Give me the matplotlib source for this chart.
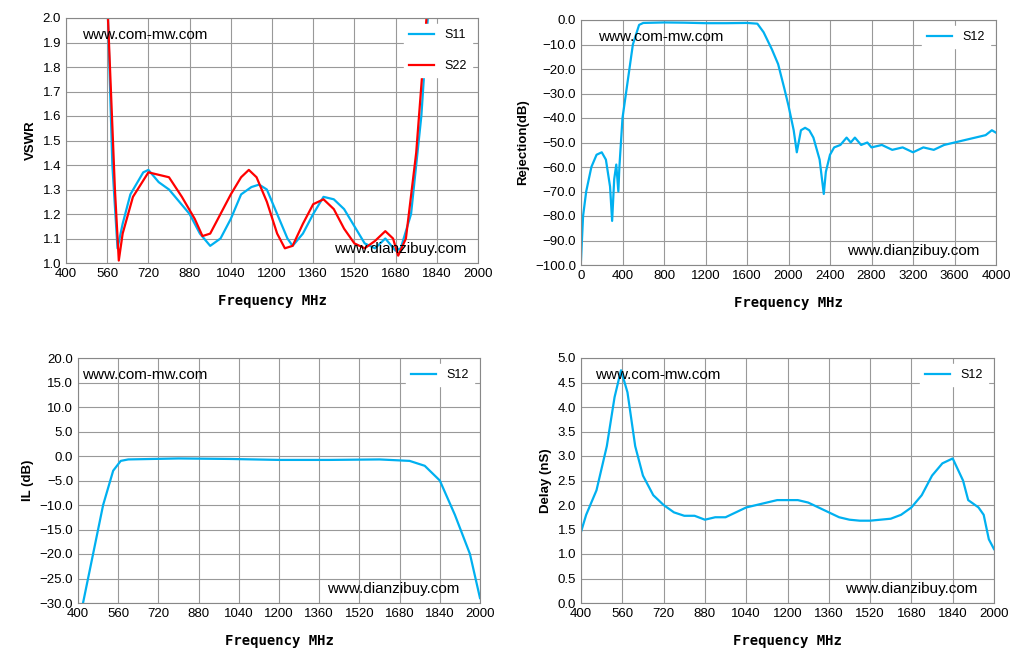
import matplotlib
matplotlib.use('Agg')
import matplotlib.pyplot as plt
import numpy as np

plt.rcParams['font.family'] = ['Liberation Sans', 'DejaVu Sans']

# VSWR
vs_f11 = [563, 580, 600, 620, 650, 700, 720, 760, 800, 880, 920, 960, 1000, 1040, 1080, 1120, 1150, 1180, 1220, 1260,
          1280, 1320, 1360, 1400, 1440, 1480, 1520, 1560, 1600, 1640, 1680, 1700, 1740, 1780, 1805]
vs_s11 = [2.0, 1.4, 1.06, 1.16, 1.28, 1.37, 1.38, 1.33, 1.30, 1.20, 1.12, 1.07, 1.10, 1.18, 1.28, 1.31, 1.32, 1.30, 1.20, 1.10,
          1.07, 1.12, 1.20, 1.27, 1.26, 1.22, 1.15, 1.08, 1.06, 1.10, 1.05, 1.06, 1.20, 1.60, 2.0]
vs_f22 = [563, 590, 605, 620, 660, 720, 760, 800, 850, 900, 930, 960, 1000, 1040, 1080, 1110, 1140, 1180, 1220, 1250,
          1280, 1320, 1360, 1400, 1440, 1480, 1520, 1560, 1600, 1640, 1670, 1690, 1720, 1760, 1800]
vs_s22 = [2.0, 1.3, 1.01, 1.12, 1.27, 1.37, 1.36, 1.35, 1.27, 1.18, 1.11, 1.12, 1.20, 1.28, 1.35, 1.38, 1.35, 1.25, 1.12, 1.06,
          1.07, 1.16, 1.24, 1.26, 1.22, 1.14, 1.08, 1.06, 1.09, 1.13, 1.10, 1.03, 1.10, 1.45, 2.0]

# Rejection
rj_f = [0, 20, 50, 100, 150, 200, 240, 280, 300, 320, 340, 360, 370, 400, 450, 500, 560, 600, 800, 1000, 1200, 1400,
        1600, 1700, 1760, 1840, 1900, 1960, 2000, 2050, 2080, 2120, 2160, 2200, 2240, 2300, 2340, 2360, 2400, 2440,
        2500, 2560, 2600, 2640, 2700, 2760, 2800, 2900, 3000, 3100, 3200, 3300, 3400, 3500, 3600, 3700, 3800, 3900,
        3960, 4000]
rj_v = [-98, -80, -70, -60, -55, -54, -57, -68, -82, -65, -59, -70, -60, -40, -25, -10, -2, -1.2, -1.0, -1.1, -1.3, -1.3,
        -1.2, -1.5, -5, -12, -18, -28, -35, -45, -54, -45, -44, -45, -48, -57, -71, -62, -55, -52,
        -51, -48, -50, -48, -51, -50, -52, -51, -53, -52, -54, -52, -53, -51, -50, -49, -48, -47,
        -45, -46]

# Insertion loss
il_f = [420, 460, 500, 540, 570, 600, 800, 1000, 1200, 1400, 1600, 1720, 1780, 1840, 1900, 1960, 2000]
il_v = [-30, -20, -10, -3, -1.0, -0.7, -0.5, -0.6, -0.8, -0.8, -0.7, -1.0, -2.0, -5, -12, -20, -29]

# Group delay
dl_f = [400, 420, 460, 500, 530, 555, 580, 610, 640, 680, 720, 760, 800, 840, 880, 920, 960, 1000, 1040, 1080, 1120,
        1160, 1200, 1240, 1280, 1320, 1360, 1400, 1440, 1480, 1520, 1560, 1600, 1640, 1680, 1720, 1760, 1800, 1840,
        1880, 1900, 1940, 1960, 1980, 2000]
dl_v = [1.45, 1.8, 2.3, 3.2, 4.2, 4.75, 4.3, 3.2, 2.6, 2.2, 2.0, 1.85, 1.78, 1.78, 1.7, 1.75, 1.75, 1.85, 1.95, 2.0, 2.05,
        2.1, 2.1, 2.1, 2.05, 1.95, 1.85, 1.75, 1.7, 1.68, 1.68, 1.7, 1.72, 1.8, 1.95, 2.2, 2.6, 2.85, 2.95,
        2.5, 2.1, 1.95, 1.8, 1.3, 1.1]

BLUE = '#00B0F0'
RED = '#FF0000'
xfont = dict(family='DejaVu Sans Mono', fontweight='bold', fontsize=10, labelpad=10)
yfont = dict(fontweight='bold', fontsize=9.5)

fig = plt.figure(figsize=(10.24, 6.65), dpi=100)
W, H = 1024, 665
def mkax(l, t, r, b):
    return fig.add_axes([l / W, 1 - b / H, (r - l) / W, (b - t) / H])

ax1 = mkax(66, 18, 478, 263)
ax2 = mkax(581, 20, 996, 265)
ax3 = mkax(78, 358, 480, 603)
ax4 = mkax(581, 358, 994, 603)

ax1.plot(vs_f11, vs_s11, color=BLUE, lw=1.6, label='S11')
ax1.plot(vs_f22, vs_s22, color=RED, lw=1.6, label='S22')
ax1.set_xlim(400, 2000); ax1.set_ylim(1.0, 2.0)
ax1.set_xticks(np.arange(400, 2001, 160)); ax1.set_yticks(np.arange(1.0, 2.01, 0.1))
ax1.yaxis.set_major_formatter('{x:.1f}')
ax1.set_ylabel('VSWR', **yfont)
ax1.legend(loc='upper right', frameon=True, fontsize=9, labelspacing=1.5, edgecolor='white', framealpha=1)
ax1.text(0.04, 0.96, 'www.com-mw.com', transform=ax1.transAxes, fontsize=11, va='top')
ax1.text(0.65, 0.03, 'www.dianzibuy.com', transform=ax1.transAxes, fontsize=11, va='bottom')

ax2.plot(rj_f, rj_v, color=BLUE, lw=1.6, label='S12')
ax2.set_xlim(0, 4000); ax2.set_ylim(-100, 0)
ax2.set_xticks(np.arange(0, 4001, 400)); ax2.set_yticks(np.arange(-100, 1, 10))
ax2.yaxis.set_major_formatter('{x:.1f}')
ax2.set_ylabel('Rejection(dB)', **yfont)
ax2.text(0.04, 0.96, 'www.com-mw.com', transform=ax2.transAxes, fontsize=11, va='top')
ax2.text(0.64, 0.03, 'www.dianzibuy.com', transform=ax2.transAxes, fontsize=11, va='bottom')

ax3.plot(il_f, il_v, color=BLUE, lw=1.6, label='S12')
ax3.set_xlim(400, 2000); ax3.set_ylim(-30, 20)
ax3.set_xticks(np.arange(400, 2001, 160)); ax3.set_yticks(np.arange(-30, 20.1, 5))
ax3.yaxis.set_major_formatter('{x:.1f}')
ax3.set_ylabel('IL (dB)', **yfont)
ax3.text(0.01, 0.96, 'www.com-mw.com', transform=ax3.transAxes, fontsize=11, va='top')
ax3.text(0.62, 0.03, 'www.dianzibuy.com', transform=ax3.transAxes, fontsize=11, va='bottom')

ax4.plot(dl_f, dl_v, color=BLUE, lw=1.6, label='S12')
ax4.set_xlim(400, 2000); ax4.set_ylim(0, 5)
ax4.set_xticks(np.arange(400, 2001, 160)); ax4.set_yticks(np.arange(0, 5.01, 0.5))
ax4.yaxis.set_major_formatter('{x:.1f}')
ax4.set_ylabel('Delay (nS)', **yfont)
ax4.text(0.035, 0.96, 'www.com-mw.com', transform=ax4.transAxes, fontsize=11, va='top')
ax4.text(0.64, 0.03, 'www.dianzibuy.com', transform=ax4.transAxes, fontsize=11, va='bottom')

for ax in (ax2, ax3, ax4):
    ax.legend(loc='upper right', frameon=True, fontsize=9, edgecolor='white', framealpha=1)

for ax in (ax1, ax2, ax3, ax4):
    ax.grid(True, color='#999999', lw=0.8)
    ax.set_axisbelow(True)
    ax.tick_params(labelsize=9.5, length=0)
    ax.set_xlabel('Frequency MHz', **xfont)
    for s in ax.spines.values():
        s.set_color('#888888')

fig.savefig('out.png', dpi=100)
